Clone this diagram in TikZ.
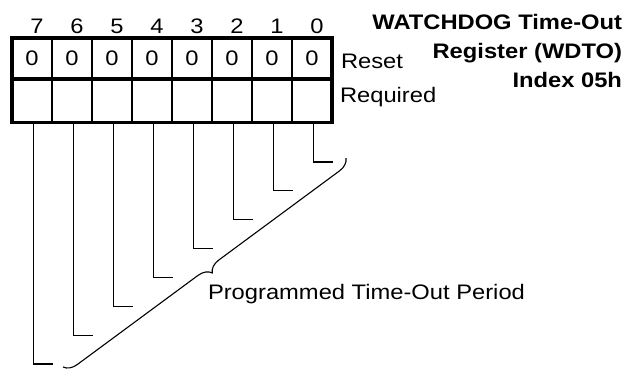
\documentclass[tikz,border=0pt]{standalone}
\usepackage{fontspec}
\setmainfont{Liberation Sans}[FakeStretch=1.13]
\usetikzlibrary{positioning, decorations.pathreplacing}

\begin{document}
\begin{tikzpicture}[
  x=1pt, y=-1pt,
  every node/.style={font=\fontsize{21}{29}\selectfont, inner sep=0pt, outer sep=0pt},
  cell/.style={rectangle, draw, line width=1.2pt, minimum width=40pt},
  resetcell/.style={cell, minimum height=41pt},
  reqcell/.style={cell, minimum height=43.5pt},
  frame/.style={line width=3.5pt},
  lead/.style={line width=1.1pt},
  bitbrace/.style={decorate, decoration={brace, amplitude=13pt}, line width=1.1pt},
]
  \useasboundingbox (0,0) rectangle (634,368);

  % register cells, bit 7 on the left
  \foreach \b in {0,...,7} {
    \node[resetcell, anchor=north west] (s\b) at ({12+40*(7-\b)},38) {0};
    \node[reqcell, below=0pt of s\b] (r\b) {};
    \node[anchor=base] (n\b) at ([xshift=5pt, yshift=5pt]s\b.north) {\b};
  }
  \draw[frame] (s7.north west) rectangle (r0.south east);
  \draw[frame] (s7.south west) -- (s0.south east);

  \node[anchor=base west] (reset) at (341,68) {Reset};
  \node[anchor=base west] (req) at (340,102) {Required};

  \node[anchor=base east, align=right, font=\fontsize{21}{29}\selectfont\bfseries]
    (title) at (622,87) {WATCHDOG Time-Out\\Register (WDTO)\\Index 05h};

  % leads from each bit down to the brace
  \foreach \b in {0,...,7} {
    \coordinate (e\b) at ({333-40*\b}, {162+28.86*\b});
    \draw[lead] ([xshift=1.5pt]r\b.south) |- (e\b);
  }

  \coordinate (bt) at (346,158);
  \coordinate (bb) at (63,367);
  \draw[bitbrace] (bt) -- (bb);
  \node[anchor=base west] (period) at (208,299) {Programmed Time-Out Period};

\end{tikzpicture}
\end{document}
